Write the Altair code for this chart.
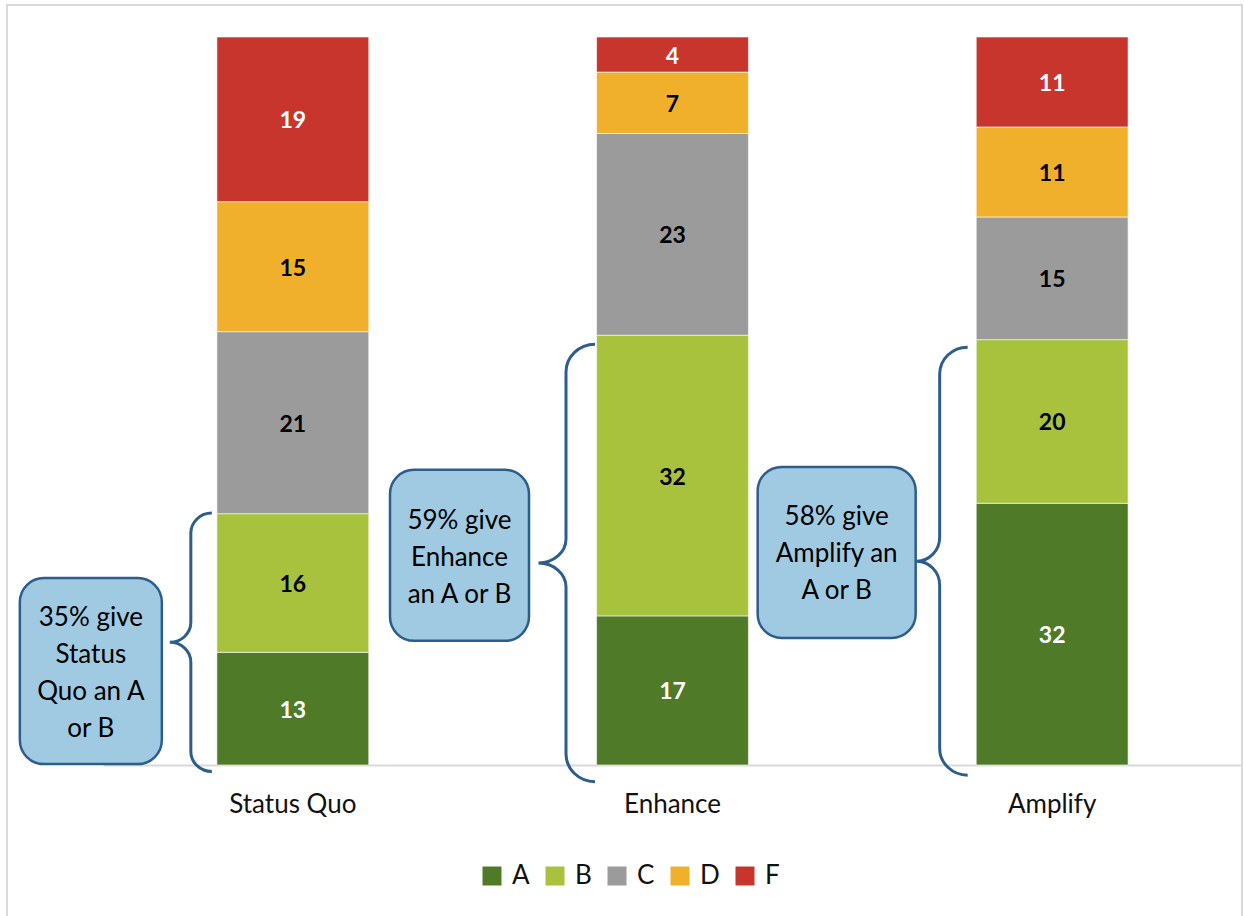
import altair as alt
import pandas as pd

# ---- data -------------------------------------------------------------
categories = ["Status Quo", "Enhance", "Amplify"]
grades = ["A", "B", "C", "D", "F"]
grade_colors = ["#4f7a28", "#a8c23d", "#9b9b9b", "#f0b02b", "#c8352c"]

status_quo = [13, 16, 21, 15, 19]
enhance = [17, 32, 23, 7, 4]
amplify = [32, 20, 15, 11, 11]

callout_texts = [
    "35% give\nStatus\nQuo an A\nor B",
    "59% give\nEnhance\nan A or B",
    "58% give\nAmplify an\nA or B",
]

# ---- layout -----------------------------------------------------------
PLOT_W, PLOT_H = 1139, 728
FONT = "Lato"
INK = "#111111"
CALLOUT_FILL = "#9fcae2"
CALLOUT_LINE = "#2c5d8c"
LINE_H = 37

# braces: vertical extent in share units, horizontal geometry in px from bar centre
brace_low = [-0.009, -0.023, -0.014]
brace_high = [0.346, 0.578, 0.574]
brace_end = [-81.0, -77.5, -84.5]
brace_stem = [-102.0, -106.5, -112.5]
brace_tip = [-123.0, -134.0, -135.5]
brace_curl = [20.0, 28.0, 27.0]
brace_neck = [20.0, 24.0, 24.0]

# callout boxes: centre offset (px) from bar centre, centre in share units, size in px
box_dx = [-202.0, -213.0, -215.5]
box_y = [0.129, 0.288, 0.292]
box_w = [142.0, 139.0, 158.0]
box_h = [186.0, 171.0, 171.0]
text_y = [0.126, 0.285, 0.290]

K = 0.5523


def f(v):
    return f"{v:.2f}"


def brace_path(h, e, s, t, r, n):
    top, bot = -h / 2.0, h / 2.0
    p = [f"M{f(e)},{f(top)}",
         f"C{f(e - K * (e - s))},{f(top)} {f(s)},{f(top + r - K * r)} {f(s)},{f(top + r)}",
         f"L{f(s)},{f(-n)}",
         f"C{f(s)},{f(-n + K * n)} {f(t + K * (s - t))},0 {f(t)},0",
         f"C{f(t + K * (s - t))},0 {f(s)},{f(n - K * n)} {f(s)},{f(n)}",
         f"L{f(s)},{f(bot - r)}",
         f"C{f(s)},{f(bot - r + K * r)} {f(e - K * (e - s))},{f(bot)} {f(e)},{f(bot)}"]
    return " ".join(p)


def box_path(cx, w, h, r=24.0):
    x0, x1, y0, y1 = cx - w / 2, cx + w / 2, -h / 2, h / 2
    k = K * r
    p = [f"M{f(x0 + r)},{f(y0)}", f"L{f(x1 - r)},{f(y0)}",
         f"C{f(x1 - r + k)},{f(y0)} {f(x1)},{f(y0 + r - k)} {f(x1)},{f(y0 + r)}",
         f"L{f(x1)},{f(y1 - r)}",
         f"C{f(x1)},{f(y1 - r + k)} {f(x1 - r + k)},{f(y1)} {f(x1 - r)},{f(y1)}",
         f"L{f(x0 + r)},{f(y1)}",
         f"C{f(x0 + r - k)},{f(y1)} {f(x0)},{f(y1 - r + k)} {f(x0)},{f(y1 - r)}",
         f"L{f(x0)},{f(y0 + r)}",
         f"C{f(x0)},{f(y0 + r - k)} {f(x0 + r - k)},{f(y0)} {f(x0 + r)},{f(y0)} Z"]
    return " ".join(p)


rows = []
for cat, vals in zip(categories, [status_quo, enhance, amplify]):
    for rank, (g, v) in enumerate(zip(grades, vals)):
        rows.append({"category": cat, "grade": g, "rank": rank, "value": v})
grades_df = pd.DataFrame(rows)

notes_df = pd.DataFrame({
    "category": categories,
    "text": callout_texts,
    "brace_mid": [(lo + hi) / 2 for lo, hi in zip(brace_low, brace_high)],
    "brace_shape": [
        brace_path((hi - lo) * PLOT_H, e, s, t, r, n)
        for lo, hi, e, s, t, r, n in zip(brace_low, brace_high, brace_end,
                                          brace_stem, brace_tip, brace_curl, brace_neck)
    ],
    "box_mid": box_y,
    "box_shape": [box_path(dx, w, h) for dx, w, h in zip(box_dx, box_w, box_h)],
    "text_mid": text_y,
})

x_enc = alt.X(
    "category:N",
    sort=categories,
    scale=alt.Scale(paddingInner=0.6, paddingOuter=0.3),
    axis=alt.Axis(title=None, labelAngle=0, ticks=False, labelPadding=26,
                  labelFont=FONT, labelFontSize=26, labelColor=INK,
                  domainColor="#d9d9d9", domainWidth=2, grid=False),
)
y_scale = alt.Scale(domain=[0, 1], nice=False, zero=False)

base = alt.Chart(grades_df).transform_stack(
    stack="value",
    groupby=["category"],
    as_=["y0", "y1"],
    offset="normalize",
    sort=[alt.SortField("rank", order="ascending")],
).transform_calculate(mid="(datum.y0 + datum.y1) / 2")

bars = base.mark_bar(stroke="white", strokeWidth=0.6).encode(
    x=x_enc,
    y=alt.Y("y0:Q", scale=y_scale, axis=None),
    y2="y1:Q",
    color=alt.Color(
        "grade:N",
        scale=alt.Scale(domain=grades, range=grade_colors),
        legend=alt.Legend(
            title=None, orient="none", legendX=376, legendY=826,
            direction="horizontal", symbolType="square", symbolSize=361,
            symbolStrokeWidth=0, symbolOpacity=1, labelFont=FONT,
            labelFontSize=26, labelColor=INK, labelOffset=7,
            columnPadding=12, padding=0,
        ),
    ),
    order=alt.Order("rank:Q"),
)

labels = base.mark_text(font=FONT, fontSize=23, fontWeight="bold",
                        baseline="middle", dy=2).encode(
    x=x_enc,
    y=alt.Y("mid:Q", scale=y_scale, axis=None),
    text="value:Q",
    color=alt.condition(
        alt.FieldOneOfPredicate(field="grade", oneOf=["A", "F"]),
        alt.value("white"),
        alt.value("black"),
    ),
)

notes = alt.Chart(notes_df)

boxes = notes.mark_point(filled=True, fill=CALLOUT_FILL, stroke=CALLOUT_LINE,
                         strokeWidth=2.5, opacity=1, size=4).encode(
    x=x_enc,
    y=alt.Y("box_mid:Q", scale=y_scale, axis=None),
    shape=alt.Shape("box_shape:N", scale=None, legend=None),
)

braces = notes.mark_point(filled=False, stroke=CALLOUT_LINE, strokeWidth=3,
                          opacity=1, size=4).encode(
    x=x_enc,
    y=alt.Y("brace_mid:Q", scale=y_scale, axis=None),
    shape=alt.Shape("brace_shape:N", scale=None, legend=None),
)

# multi-line text is placed by its first line, so lift each block by half its extra lines
box_text = alt.layer(*[
    notes.transform_filter(alt.datum.category == cat).mark_text(
        font=FONT, fontSize=26, color="black", baseline="middle",
        align="center", lineBreak="\n", lineHeight=LINE_H, dx=dx,
        dy=-(txt.count("\n")) * LINE_H / 2.0,
    ).encode(
        x=x_enc,
        y=alt.Y("text_mid:Q", scale=y_scale, axis=None),
        text="text:N",
    )
    for cat, dx, txt in zip(categories, box_dx, callout_texts)
])

frame = alt.Chart(pd.DataFrame({"k": [0]})).mark_rect(
    fillOpacity=0, stroke="#d9d9d9", strokeWidth=2
).encode(
    x=alt.value(-96), x2=alt.value(PLOT_W), y=alt.value(-32), y2=alt.value(1000)
)

chart = alt.layer(frame, bars, labels, boxes, braces, box_text).properties(
    width=PLOT_W,
    height=PLOT_H,
    padding={"left": 103, "top": 37, "right": 2, "bottom": 151},
    autosize=alt.AutoSizeParams(type="none"),
    background="white",
).configure_view(stroke=None)

chart.save("out.html", embed_options={"renderer": "svg", "actions": False})
